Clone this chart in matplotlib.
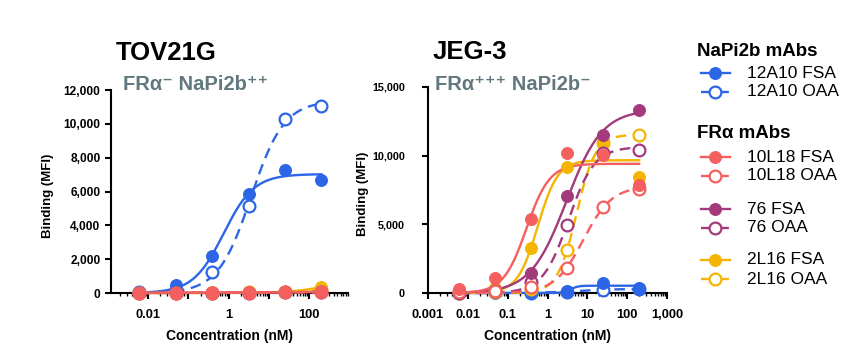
import numpy as np
import matplotlib
matplotlib.use("Agg")
import matplotlib.pyplot as plt
from matplotlib.lines import Line2D
from matplotlib.ticker import LogLocator, FixedLocator, FuncFormatter, NullFormatter

plt.rcParams['font.family'] = ['Liberation Sans', 'DejaVu Sans']

# ---------------- data ----------------
conc = [0.0061, 0.049, 0.39, 3.13, 25, 200]   # nM, 8-fold dilution

series_names = ["12A10 FSA", "12A10 OAA", "10L18 FSA", "10L18 OAA",
                "76 FSA", "76 OAA", "2L16 FSA", "2L16 OAA"]

# TOV21G (FRa- NaPi2b++)
tov_12A10_FSA = [60, 500, 2200, 5880, 7270, 6680]
tov_12A10_OAA = [30, 150, 1220, 5140, 10260, 11070]
tov_10L18_FSA = [20, 20, 20, 30, 40, 60]
tov_10L18_OAA = [10, 10, 15, 20, 30, 40]
tov_76_FSA = [10, 10, 15, 20, 40, 80]
tov_76_OAA = [10, 10, 10, 20, 30, 60]
tov_2L16_FSA = [20, 20, 30, 40, 70, 370]
tov_2L16_OAA = [10, 10, 20, 30, 60, 250]

# JEG-3 (FRa+++ NaPi2b-)
jeg_12A10_FSA = [20, 30, 40, 150, 700, 360]
jeg_12A10_OAA = [10, 60, 20, 100, 250, 280]
jeg_10L18_FSA = [290, 1090, 5390, 10200, 10050, 7850]
jeg_10L18_OAA = [40, 150, 440, 1820, 6250, 7600]
jeg_76_FSA = [60, 250, 1460, 7060, 11500, 13320]
jeg_76_OAA = [30, 120, 820, 4950, 10200, 10400]
jeg_2L16_FSA = [120, 400, 3280, 9170, 10900, 8450]
jeg_2L16_OAA = [30, 100, 320, 3130, 10900, 11500]

colors = {"12A10": "#2c66e6", "10L18": "#f45f5f", "76": "#a23a7c", "2L16": "#f4b400"}

tov = {"12A10 FSA": tov_12A10_FSA, "12A10 OAA": tov_12A10_OAA,
       "10L18 FSA": tov_10L18_FSA, "10L18 OAA": tov_10L18_OAA,
       "76 FSA": tov_76_FSA, "76 OAA": tov_76_OAA,
       "2L16 FSA": tov_2L16_FSA, "2L16 OAA": tov_2L16_OAA}
jeg = {"12A10 FSA": jeg_12A10_FSA, "12A10 OAA": jeg_12A10_OAA,
       "10L18 FSA": jeg_10L18_FSA, "10L18 OAA": jeg_10L18_OAA,
       "76 FSA": jeg_76_FSA, "76 OAA": jeg_76_OAA,
       "2L16 FSA": jeg_2L16_FSA, "2L16 OAA": jeg_2L16_OAA}

draw_order = ["12A10 OAA", "12A10 FSA", "2L16 OAA", "2L16 FSA",
              "76 OAA", "76 FSA", "10L18 OAA", "10L18 FSA"]


def fit_logistic(x, y):
    """Least-squares logistic fit with bottom fixed at 0 (grid over EC50/hill, top linear)."""
    x = np.asarray(x, float)
    y = np.asarray(y, float)
    E = np.logspace(-4, 4, 600)[:, None, None]
    H = np.linspace(0.3, 5.0, 150)[None, :, None]
    f = 1.0 / (1.0 + (E / x[None, None, :]) ** H)
    T = (f * y).sum(-1) / np.maximum((f * f).sum(-1), 1e-12)
    sse = ((T[..., None] * f - y) ** 2).sum(-1)
    i, j = np.unravel_index(np.argmin(sse), sse.shape)
    e, h, t = E[i, 0, 0], H[0, j, 0], T[i, j]
    return lambda xx: t / (1.0 + (e / xx) ** h)


W, Hh = 843, 345
fig = plt.figure(figsize=(W / 100, Hh / 100), dpi=100)


def fx(px):
    return px / W


def fy(py):
    return 1 - py / Hh


ax1 = fig.add_axes([fx(111), fy(293), fx(348) - fx(111), fy(90) - fy(293)])
ax2 = fig.add_axes([fx(428), fy(293), fx(667) - fx(428), fy(87) - fy(293)])


def draw(ax, data):
    xs = np.logspace(np.log10(conc[0]), np.log10(conc[-1]), 300)
    for name in draw_order:
        c = colors[name.split()[0]]
        y = data[name]
        curve = fit_logistic(conc, y)
        oaa = name.endswith("OAA")
        ax.plot(xs, curve(xs), color=c, lw=1.7,
                ls=(0, (4.5, 2.8)) if oaa else "-", clip_on=False, zorder=3)
        ax.plot(conc, y, ls="none", marker="o", ms=8.5,
                mfc="white" if oaa else c, mec=c, mew=1.6 if oaa else 0.8,
                clip_on=False, zorder=4)


draw(ax1, tov)
draw(ax2, jeg)

for ax in (ax1, ax2):
    ax.set_xscale("log")
    for s in ("top", "right"):
        ax.spines[s].set_visible(False)
    for s in ("left", "bottom"):
        ax.spines[s].set_linewidth(1.5)
    ax.tick_params(which="major", length=4.5, width=1.5, labelsize=8.6)
    ax.tick_params(axis="x", which="major", labelsize=9.3, pad=7)
    ax.tick_params(which="minor", length=2.5, width=1.0)
    ax.xaxis.set_minor_locator(LogLocator(base=10, subs=np.arange(2, 10) * 1.0, numticks=20))
    ax.xaxis.set_minor_formatter(NullFormatter())
    ax.set_xlabel("Concentration (nM)", fontsize=10, fontweight="bold", labelpad=6)
    ax.set_ylabel("Binding (MFI)", fontsize=9.5, fontweight="bold")
    ax.yaxis.set_major_formatter(FuncFormatter(lambda v, p: f"{int(v):,}"))

ax1.yaxis.set_label_coords(-0.24, 0.48)
ax2.yaxis.set_label_coords(-0.245, 0.48)

ax1.set_xlim(10 ** -2.92, 10 ** 2.96)
ax1.set_ylim(0, 12000)
ax1.set_yticks(np.arange(0, 12001, 2000))
ax1.xaxis.set_major_locator(FixedLocator([1e-3, 1e-2, 1e-1, 1, 10, 100]))
ax1.xaxis.set_major_formatter(FuncFormatter(
    lambda v, p: {1e-2: "0.01", 1: "1", 100: "100"}.get(round(v, 6), "")))
ax1.tick_params(axis="y", pad=3)

ax2.set_xlim(1e-3, 1e3)
ax2.set_ylim(0, 15000)
ax2.set_yticks(np.arange(0, 15001, 5000))
ax2.xaxis.set_major_locator(FixedLocator([1e-3, 1e-2, 1e-1, 1, 10, 100, 1000]))
ax2.xaxis.set_major_formatter(FuncFormatter(
    lambda v, p: {1e-3: "0.001", 1e-2: "0.01", 1e-1: "0.1", 1: "1", 10: "10",
                  100: "100", 1000: "1,000"}.get(round(v, 6), "")))
ax2.tick_params(axis="y", pad=12, labelsize=7.8)

for ax in (ax1, ax2):
    for lab in ax.get_xticklabels() + ax.get_yticklabels():
        lab.set_fontweight("bold")

# titles
fig.text(fx(116), fy(53), "TOV21G", fontsize=18.5, fontweight="bold", va="center", ha="left")
fig.text(fx(433), fy(52), "JEG-3", fontsize=18.5, fontweight="bold", va="center", ha="left")
sub_c = "#62787f"
fig.text(fx(123), fy(84), "FRα\u207b NaPi2b\u207a\u207a", fontsize=14.5, fontweight="bold",
         color=sub_c, va="center", ha="left")
fig.text(fx(435), fy(84), "FRα\u207a\u207a\u207a NaPi2b\u207b", fontsize=14.5, fontweight="bold",
         color=sub_c, va="center", ha="left")

# legend (manual)
fig.text(fx(697), fy(51), "NaPi2b mAbs", fontsize=13.5, fontweight="bold", va="center", ha="left")
fig.text(fx(697), fy(133), "FRα mAbs", fontsize=13.5, fontweight="bold", va="center", ha="left")
leg_rows = {"12A10 FSA": 73, "12A10 OAA": 92, "10L18 FSA": 157, "10L18 OAA": 176,
            "76 FSA": 209, "76 OAA": 228, "2L16 FSA": 260, "2L16 OAA": 279}
for name in series_names:
    ypx = leg_rows[name]
    c = colors[name.split()[0]]
    oaa = name.endswith("OAA")
    fig.add_artist(Line2D([fx(701), fx(730)], [fy(ypx), fy(ypx)], color=c, lw=1.7,
                          ls=(0, (4.5, 2.8)) if oaa else "-", transform=fig.transFigure))
    fig.add_artist(Line2D([fx(715)], [fy(ypx)], ls="none", marker="o", ms=8.5,
                          mfc="white" if oaa else c, mec=c, mew=1.6 if oaa else 0.8,
                          transform=fig.transFigure))
    fig.text(fx(747), fy(ypx), name, fontsize=12.5, va="center", ha="left")

fig.savefig("out.png", dpi=100)
